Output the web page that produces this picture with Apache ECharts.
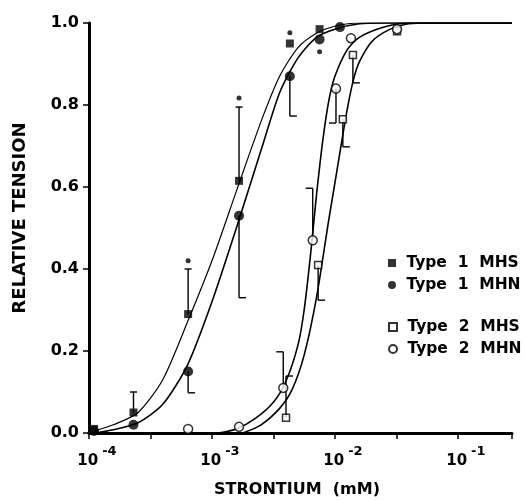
<!DOCTYPE html>
<html>
<head>
<meta charset="utf-8">
<script src="https://cdn.jsdelivr.net/npm/echarts@6.0.0/dist/echarts.min.js"></script>
<style>
  html, body { margin: 0; padding: 0; background: #fff; }
  #chart { width: 526px; height: 500px; }
</style>
</head>
<body>
<div id="chart"></div>
<script>
// strontium concentrations in mM, relative tension 0..1

// measured points [conc, tension]
const type1MHS = [[1.1e-4, 0.01], [2.3e-4, 0.05], [6.4e-4, 0.29], [1.66e-3, 0.615], [4.3e-3, 0.95], [7.5e-3, 0.985]]
const type1MHN = [[1.1e-4, 0.005], [2.3e-4, 0.02], [6.4e-4, 0.15], [1.66e-3, 0.53], [4.3e-3, 0.87], [7.5e-3, 0.96], [1.1e-2, 0.99]]
const type2MHS = [[4.0e-3, 0.037], [7.3e-3, 0.41], [1.16e-2, 0.765], [1.4e-2, 0.922], [3.2e-2, 0.98]]
const type2MHN = [[6.4e-4, 0.01], [1.66e-3, 0.015], [3.8e-3, 0.11], [6.6e-3, 0.47], [1.02e-2, 0.84], [1.35e-2, 0.963], [3.2e-2, 0.985]]

// error bars [conc, from, to]
const errType1MHS = [[2.3e-4, 0.05, 0.10], [6.4e-4, 0.29, 0.40], [1.66e-3, 0.615, 0.795]]
const errType1MHN = [[6.4e-4, 0.15, 0.098], [1.66e-3, 0.53, 0.33], [4.3e-3, 0.87, 0.773]]
const errType2MHS = [[4.0e-3, 0.037, 0.139], [7.3e-3, 0.41, 0.324], [1.16e-2, 0.765, 0.698], [1.4e-2, 0.922, 0.854]]
const errType2MHN = [[3.8e-3, 0.11, 0.198], [6.6e-3, 0.47, 0.597], [1.02e-2, 0.84, 0.756]]

// significance marks
const asterisks = [[6.4e-4, 0.42], [1.66e-3, 0.817], [4.3e-3, 0.976], [7.5e-3, 0.93]]

// fitted curves
const fitType1MHS = [[1.1e-4, 0.005], [1.58e-4, 0.02], [2.51e-4, 0.05], [3.98e-4, 0.13], [6.31e-4, 0.27], [1.0e-3, 0.42],
  [1.58e-3, 0.59], [2.51e-3, 0.76], [3.55e-3, 0.87], [5.01e-3, 0.94], [7.08e-3, 0.975], [1.0e-2, 0.992],
  [1.58e-2, 1.0], [0.275, 1.0]]
const fitType1MHN = [[1.1e-4, 0.0], [1.58e-4, 0.008], [2.51e-4, 0.025], [3.98e-4, 0.07], [6.31e-4, 0.165], [1.0e-3, 0.32],
  [1.58e-3, 0.5], [2.51e-3, 0.69], [3.55e-3, 0.83], [5.01e-3, 0.915], [7.08e-3, 0.965], [1.0e-2, 0.985],
  [1.58e-2, 0.998], [2.51e-2, 1.0], [0.275, 1.0]]
const fitType2MHN = [[1.12e-3, 0.0], [1.58e-3, 0.01], [2.24e-3, 0.035], [3.16e-3, 0.075], [3.98e-3, 0.125], [5.01e-3, 0.215],
  [5.62e-3, 0.3], [6.31e-3, 0.43], [7.08e-3, 0.58], [7.94e-3, 0.71], [8.91e-3, 0.81], [1.0e-2, 0.87], [1.26e-2, 0.935],
  [1.58e-2, 0.965], [2.51e-2, 0.99], [3.98e-2, 1.0], [0.275, 1.0]]
const fitType2MHS = [[1.78e-3, 0.0], [2.51e-3, 0.02], [3.55e-3, 0.06], [4.47e-3, 0.105], [5.62e-3, 0.19], [7.08e-3, 0.33],
  [8.91e-3, 0.52], [1.0e-2, 0.61], [1.12e-2, 0.7], [1.26e-2, 0.79], [1.41e-2, 0.86], [1.58e-2, 0.905], [2.0e-2, 0.955],
  [2.82e-2, 0.985], [3.98e-2, 0.998], [6.31e-2, 1.0], [0.275, 1.0]]

const FONT = 'DejaVu Sans'
const toLog = (rows) => rows.map(r => [Math.log10(r[0]), ...r.slice(1)])

const lineSeries = (name, data, width) => ({
  name,
  type: 'line',
  data: toLog(data),
  smooth: 0.25,
  showSymbol: false,
  silent: true,
  z: 2,
  lineStyle: { color: '#000', width }
})

// capSide: -1 cap to the left, 0 centred, 1 to the right
const errorSeries = (data, capSide) => ({
  type: 'custom',
  data: toLog(data),
  silent: true,
  z: 3,
  encode: { x: 0, y: [1, 2] },
  renderItem: (params, api) => {
    const p1 = api.coord([api.value(0), api.value(1)])
    const p2 = api.coord([api.value(0), api.value(2)])
    const capLen = 7
    const cx1 = capSide === 0 ? p2[0] - capLen / 2 : p2[0]
    const cx2 = capSide === 0 ? p2[0] + capLen / 2 : p2[0] + capSide * capLen
    const style = { stroke: '#000', lineWidth: 1.4 }
    return {
      type: 'group',
      children: [
        { type: 'line', shape: { x1: p1[0], y1: p1[1], x2: p2[0], y2: p2[1] }, style },
        { type: 'line', shape: { x1: cx1, y1: p2[1], x2: cx2, y2: p2[1] }, style }
      ]
    }
  }
})

const pointSeries = (name, data, symbol, size, filled) => ({
  name,
  type: 'scatter',
  data: toLog(data),
  symbol,
  symbolSize: size,
  z: 4,
  itemStyle: filled
    ? { color: '#000' }
    : { color: '#fff', borderColor: '#000', borderWidth: 1.5 }
})

const legendBase = {
  orient: 'vertical',
  left: 383,
  itemWidth: 8,
  itemHeight: 8,
  itemGap: 6,
  selectedMode: false,
  formatter: name => ' ' + name.replace(/ /g, '  '),
  textStyle: { fontFamily: FONT, fontWeight: 'bold', fontSize: 15.5, color: '#000' }
}

const chart = echarts.init(document.getElementById('chart'), null, { renderer: 'canvas' })

chart.setOption({
  animation: false,
  backgroundColor: '#fff',
  grid: { left: 89, right: 14, top: 23, bottom: 67 },
  legend: [
    { ...legendBase, top: 250, data: ['Type 1 MHS', 'Type 1 MHN'] },
    { ...legendBase, top: 314, data: ['Type 2 MHS', 'Type 2 MHN'] }
  ],
  xAxis: {
    type: 'value',
    min: -4,
    max: -0.56,
    interval: 0.5,
    splitLine: { show: false },
    axisLine: { lineStyle: { color: '#000', width: 3 } },
    axisTick: { length: 6, lineStyle: { color: '#000', width: 1.5 } },
    axisLabel: {
      margin: 12,
      padding: [0, 0, 0, 16],
      formatter: v => Math.abs(v - Math.round(v)) < 1e-6 ? '{b|10}{s|-' + Math.abs(Math.round(v)) + '}' : '',
      rich: {
        b: { fontFamily: FONT, fontWeight: 'bold', fontSize: 15, color: '#000', lineHeight: 24, verticalAlign: 'bottom' },
        s: { fontFamily: FONT, fontWeight: 'bold', fontSize: 13, color: '#000', lineHeight: 24, verticalAlign: 'top', padding: [0, 0, 0, 4] }
      }
    }
  },
  yAxis: {
    type: 'value',
    min: 0,
    max: 1,
    interval: 0.2,
    splitLine: { show: false },
    axisLine: { show: true, lineStyle: { color: '#000', width: 3 } },
    axisTick: { show: true, length: 6, lineStyle: { color: '#000', width: 1.5 } },
    axisLabel: {
      margin: 10,
      formatter: v => v.toFixed(1),
      fontFamily: FONT,
      fontWeight: 'bold',
      fontSize: 16,
      color: '#000'
    }
  },
  graphic: [
    {
      type: 'text',
      x: 20,
      y: 218,
      rotation: Math.PI / 2,
      style: {
        text: 'RELATIVE TENSION',
        fontFamily: FONT, fontWeight: 'bold', fontSize: 18, fill: '#000',
        align: 'center', verticalAlign: 'middle'
      }
    },
    {
      type: 'text',
      x: 297,
      y: 490,
      style: {
        text: 'STRONTIUM  (mM)',
        fontFamily: FONT, fontWeight: 'bold', fontSize: 16, fill: '#000',
        align: 'center', verticalAlign: 'middle'
      }
    }
  ],
  series: [
    lineSeries('fit Type 1 MHS', fitType1MHS, 1.2),
    lineSeries('fit Type 1 MHN', fitType1MHN, 1.6),
    lineSeries('fit Type 2 MHS', fitType2MHS, 1.6),
    lineSeries('fit Type 2 MHN', fitType2MHN, 1.6),
    errorSeries(errType1MHS, 0),
    errorSeries(errType1MHN, 1),
    errorSeries(errType2MHS, 1),
    errorSeries(errType2MHN, -1),
    pointSeries('Type 1 MHS', type1MHS, 'rect', 8, true),
    pointSeries('Type 1 MHN', type1MHN, 'circle', 10, true),
    pointSeries('Type 2 MHS', type2MHS, 'rect', 7, false),
    pointSeries('Type 2 MHN', type2MHN, 'circle', 9, false),
    {
      name: 'asterisk',
      type: 'scatter',
      data: toLog(asterisks),
      symbol: 'circle',
      symbolSize: 5,
      z: 4,
      itemStyle: { color: '#000' }
    }
  ]
})
</script>
</body>
</html>
